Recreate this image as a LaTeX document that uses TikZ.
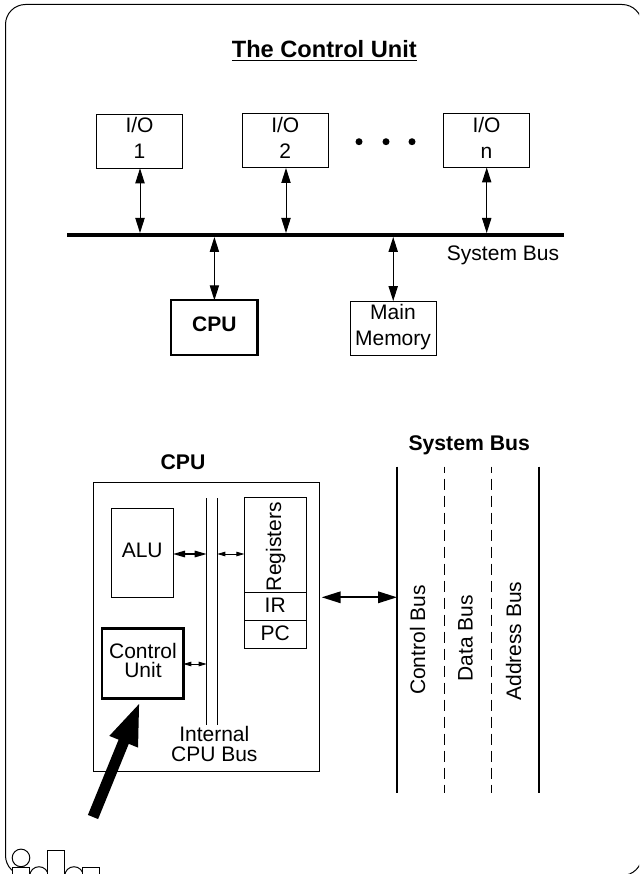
\documentclass[tikz,border=0pt]{standalone}
\usepackage{fontspec}
\setmainfont{Liberation Sans}
\usetikzlibrary{arrows.meta,calc}
\tikzset{
  x=1pt,y=-1pt,
  boxn/.style={draw=black,line width=1pt,inner sep=0pt,outer sep=0pt,font=\fontsize{21}{25.6}\selectfont,text height=15pt},
  thickbox/.style={boxn,line width=2.4pt,font=\fontsize{21}{25.6}\selectfont\bfseries},
  lbl/.style={inner sep=0pt,outer sep=0pt,font=\fontsize{21}{25.6}\selectfont,align=center},
  tightlbl/.style={lbl,font=\fontsize{21}{19.5}\selectfont},
  boldlbl/.style={lbl,font=\fontsize{21.2}{25.6}\selectfont\bfseries},
  arrbig/.style={line width=1pt,{Triangle[length=15pt,width=9.3pt]}-{Triangle[length=15pt,width=9.3pt]},shorten <=0pt,shorten >=0pt},
  arrmid/.style={line width=1.5pt,{Triangle[length=12pt,width=6.5pt]}-{Triangle[length=12pt,width=6.5pt]}},
  arrsmall/.style={line width=.8pt,{Triangle[length=8pt,width=4.5pt]}-{Triangle[length=8pt,width=4.5pt]}},
  arrwide/.style={line width=1.8pt,{Triangle[length=19pt,width=11.5pt]}-{Triangle[length=19pt,width=11.5pt]}},
  busline/.style={line width=2pt},
  dashline/.style={line width=.8pt,dash pattern=on 11pt off 6pt,dash phase=5pt},
  dotn/.style={circle,fill=black,inner sep=0pt,minimum size=7pt},
  logo/.style={line width=1pt,draw=black},
}
\begin{document}
\begin{tikzpicture}
\useasboundingbox (0,0) rectangle (639,874);
\clip (0,0) rectangle (639,874);
% frame
\draw[line width=1pt,rounded corners=20pt] (5.5,4.5) rectangle (642,875.5);
% logo
\draw[logo] (21,857.9) circle (8.8);
\draw[logo] (39,876) circle (9.3);
\draw[logo] (74,876) circle (9.3);
\filldraw[logo,fill=white] (12.7,867.3) rectangle (29,880);
\filldraw[logo,fill=white] (47.7,850.7) rectangle (64.7,880);
\filldraw[logo,fill=white] (82.3,867.3) rectangle (99.3,880);
% title
\node[inner sep=0pt,outer sep=0pt,anchor=base,font=\fontsize{23.6}{28}\selectfont\bfseries] (title) at (324.3,58) {The Control Unit};
\draw[line width=1.2pt] ([yshift=-2.4pt]title.base west) -- ([yshift=-2.4pt]title.base east);
% upper part
\node[fill=black,inner sep=0pt,outer sep=0pt,minimum width=497.6pt,minimum height=4pt] (bus) at (315.5,235) {};
\node[boxn,minimum width=86pt,minimum height=54pt] (io1) at (139.3,141.3) {};
\node[boxn,minimum width=86pt,minimum height=54pt] (io2) at (285.5,141) {};
\node[boxn,minimum width=86pt,minimum height=54pt] (ion) at (486.2,140.5) {};
\node[lbl] (io1t) at (139.5,137.6) {I/O\\1};
\node[lbl] (io2t) at (285.3,137.6) {I/O\\2};
\node[lbl] (iont) at (486.5,137.6) {I/O\\n};
\node[dotn] (d1) at (359,141.7) {};
\node[dotn] (d2) at (386,141.7) {};
\node[dotn] (d3) at (412,141.7) {};
\node[lbl,anchor=base] (sbt) at (503,260.7) {System Bus};
\node[thickbox,text depth=6.9pt,minimum width=86.5pt,minimum height=54.7pt] (cpu) at (214.4,327.6) {CPU};
\node[boxn,minimum width=86.3pt,minimum height=54pt] (mem) at (393.2,328) {};
\node[lbl] (memt) at (393,327) {Main\\Memory};
\draw[arrbig] (io1.south -| 140,0) -- (bus.north -| 140,0);
\draw[arrbig] (io2.south -| 286,0) -- (bus.north -| 286,0);
\draw[arrbig] (ion.south -| 486.7,0) -- (bus.north -| 486.7,0);
\draw[arrbig] (bus.south -| cpu.north) -- (cpu.north);
\draw[arrbig] (bus.south -| mem.north) -- (mem.north);
% CPU block
\node[boldlbl,anchor=base] (cput) at (183,469) {CPU};
\node[boldlbl,anchor=base] (sbb) at (469.2,450.7) {System Bus};
\node[boxn,minimum width=226pt,minimum height=289pt] (outer) at (206.3,627.2) {};
\node[boxn,text depth=4.8pt,minimum width=61.7pt,minimum height=88.7pt] (alu) at (142.2,552.7) {ALU};
\node[boxn,minimum width=61.7pt,minimum height=94.3pt] (regs) at (275.2,544.9) {};
\node[lbl,anchor=base,rotate=90] (regst) at (281,546.7) {Registers};
\node[boxn,text depth=3pt,minimum width=61.7pt,minimum height=28.3pt] (ir) at (275.2,606.15) {IR};
\node[boxn,text depth=3pt,minimum width=61.7pt,minimum height=28.4pt] (pc) at (275.2,634.5) {PC};
\node[thickbox,minimum width=81.6pt,minimum height=70pt] (cu) at (142.5,663.3) {};
\node[tightlbl] (cut) at (143,660.3) {Control\\Unit};
\coordinate (ib1t) at (206.7,498.3);
\coordinate (ib1b) at (206.7,725);
\coordinate (ib2t) at (217.3,498.3);
\coordinate (ib2b) at (217.3,725);
\draw[line width=1pt] (ib1t) -- (ib1b);
\draw[line width=1pt] (ib2t) -- (ib2b);
\node[tightlbl] (ibt) at (214.3,743.9) {Internal\\CPU Bus};
\draw[arrmid] (alu.east |- 0,554) -- (ib1t |- 0,554);
\draw[arrsmall] (ib2t |- 0,554) -- (regs.west |- 0,554);
\draw[arrsmall] (cu.east |- 0,664) -- (ib1t |- 0,664);
% big arrow
\coordinate (bigtip) at ($(cu.south)+(-2.2,2.7)$);
\coordinate (bigtail) at (93,817);
\draw[line width=11pt,-{Triangle[length=44pt,width=27pt]}] (bigtail) -- (bigtip);
% system bus
\coordinate (cbt) at (397,466.7);
\coordinate (cbb) at (397,793.3);
\coordinate (abt) at (539,466.7);
\coordinate (abb) at (539,793.3);
\coordinate (d1t) at (444.3,466.7);
\coordinate (d1b) at (444.3,793.3);
\coordinate (d2t) at (491.7,466.7);
\coordinate (d2b) at (491.7,793.3);
\draw[busline] (cbt) -- (cbb);
\draw[busline] (abt) -- (abb);
\draw[dashline] (d1t) -- (d1b);
\draw[dashline] (d2t) -- (d2b);
\coordinate (rarr) at (321.7,597.3);
\draw[arrwide] (rarr) -- (rarr -| cbt);
\node[lbl,anchor=base,rotate=90] (cbl) at (425,640) {Control Bus};
\node[lbl,anchor=base,rotate=90] (dbl) at (472.7,638) {Data Bus};
\node[lbl,anchor=base,rotate=90] (abl) at (521,641) {Address Bus};
\end{tikzpicture}
\end{document}
